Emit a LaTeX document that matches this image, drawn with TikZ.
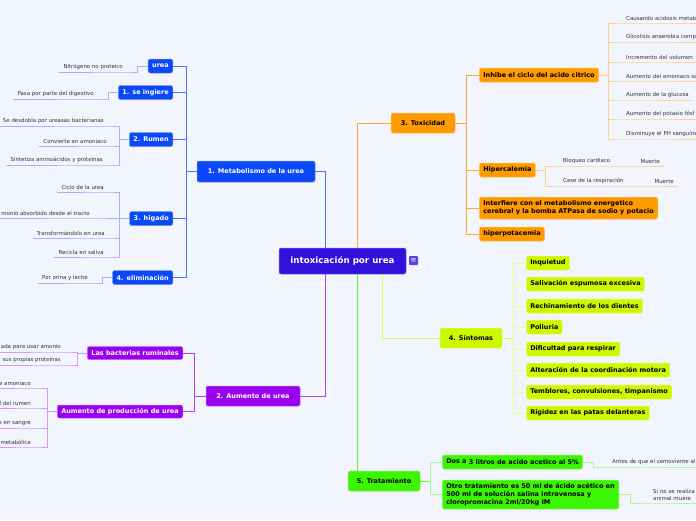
\documentclass[tikz,border=0pt]{standalone}
\usepackage{fontspec}
\setmainfont{DejaVu Sans}
\definecolor{bg}{HTML}{F3F5FE}
\definecolor{c0}{HTML}{3410DC}
\definecolor{c1}{HTML}{0A48F8}
\definecolor{c2}{HTML}{9A00F0}
\definecolor{c3}{HTML}{FF9A00}
\definecolor{c4}{HTML}{CEF800}
\definecolor{c5}{HTML}{3CF500}
\begin{document}
\begin{tikzpicture}[x=1pt,y=-1pt,
	box/.style={rounded corners=2pt,inner xsep=4pt,inner ysep=0pt,minimum height=14pt,line width=0.5pt,font=\fontsize{6.5}{8.4}\selectfont\bfseries},
	b1/.style={box,fill=c1,draw=c1!60!white,text=white},
	b2/.style={box,fill=c2,draw=c2!60!white,text=white},
	b3/.style={box,fill=c3,draw=c3!60!white,text=black},
	b4/.style={box,fill=c4,draw=c4!60!white,text=black},
	b5/.style={box,fill=c5,draw=c5!60!white,text=black},
	leaf/.style={inner xsep=4pt,inner ysep=2.2pt,text=black!80,font=\fontsize{5.45}{6.8}\selectfont},
	cut/.style={text width=100pt,align=left},
	l1/.style={draw=c1!75!white,line width=1pt},
	l1l/.style={draw=c1!40!white,line width=1pt},
	l2/.style={draw=c2!75!white,line width=1pt},
	l2l/.style={draw=c2!40!white,line width=1pt},
	l3/.style={draw=c3!85!white,line width=1pt},
	l3l/.style={draw=c3!45!white,line width=1pt},
	l4/.style={draw=c4!70!white,line width=1pt},
	l4l/.style={draw=c4!40!white,line width=1pt},
	l5/.style={draw=c5!85!white,line width=1pt},
	l5l/.style={draw=c5!45!white,line width=1pt}]
	\useasboundingbox (0,0) rectangle (696,520);
	\fill[bg] (0,0) rectangle (696,520);
	\node[box,fill=c0,draw=c0!60!white,text=white,minimum width=127pt,minimum height=26pt,font=\fontsize{8.7}{10}\selectfont\bfseries] (0) at (342.5,261) {intoxicación por urea};
	\node[fill=c0!80!white,rounded corners=1pt,inner sep=0pt,minimum size=9pt,text=white,font=\fontsize{7}{7}\selectfont] (0n) at (413.5,260.5) {≡};
	\node[b1,minimum width=118pt,minimum height=21pt] (1) at (256,171.5) {1. Metabolismo de la urea};
	\node[b2,minimum width=94pt,minimum height=20pt] (2) at (253,396) {2. Aumento de urea};
	\node[b3,minimum width=64pt,minimum height=20pt] (3) at (423,123) {3. Toxicidad};
	\node[b4,minimum width=62pt,minimum height=20pt] (4) at (471,338) {4. Síntomas};
	\node[b5,minimum width=72pt,minimum height=20pt] (5) at (384,481) {5. Tratamiento};
	\draw[l1] ([xshift=47pt]0.north west) |- (1.east);
	\draw[l2] ([xshift=47pt]0.south west) |- (2.east);
	\draw[l3] ([xshift=79pt]0.north west) |- (3.west);
	\draw[l4] ([xshift=104pt]0.south west) |- (4.west);
	\coordinate (05) at ([xshift=79pt]0.south west);
	\draw[l5] (05) -- (05 |- 5.north);
	\node[b1,anchor=east] (11) at (173,66) {urea};
	\node[b1,anchor=east] (12) at (173,92.5) {1. se ingiere};
	\node[b1,anchor=east] (13) at (173,139.5) {2. Rumen};
	\node[b1,anchor=east] (14) at (173,218.5) {3. higado};
	\node[b1,anchor=east] (15) at (173,277.5) {4. eliminación};
	\draw[l1] (1.west) -- ++(-10,0) coordinate (1b);
	\draw[l1] (11.east) -| (1b);
	\draw[l1] (12.east) -| (1b);
	\draw[l1] (13.east) -| (1b);
	\draw[l1] (14.east) -| (1b);
	\draw[l1] (15.east) -| (1b);
	\node[leaf,anchor=south east] (111) at (127,72) {Nitrógeno no proteico};
	\node[leaf,anchor=south east] (121) at (98,99) {Pasa por parte del  digestivo};
	\node[leaf,anchor=south east] (131) at (108,126) {Se desdobla por ureasas bacterianas};
	\node[leaf,anchor=south east] (132) at (111,146) {Convierte en amoniaco};
	\node[leaf,anchor=south east] (133) at (107,165) {Sintetiza aminoácidos y proteínas};
	\node[leaf,anchor=south east] (141) at (108,192) {Ciclo de la urea};
	\node[leaf,anchor=south east] (142) at (94,218) {monio absorbido desde el tracto};
	\node[leaf,anchor=south east] (143) at (109,238) {Transformándolo en urea};
	\node[leaf,anchor=south east] (144) at (108,257) {Recicla en saliva};
	\node[leaf,anchor=south east] (151) at (92,283) {Por orina y leche};
	\draw[l1l] (11.west) -- ++(-10,0) |- (111.south east) -- (111.south west);
	\draw[l1l] (12.west) -- ++(-10,0) |- (121.south east) -- (121.south west);
	\draw[l1l] (13.west) -- ++(-10,0) coordinate (13b);
	\draw[l1l] (131.south west) -- (131.south east) -| (13b);
	\draw[l1l] (132.south west) -- (132.south east) -| (13b);
	\draw[l1l] (133.south west) -- (133.south east) -| (13b);
	\draw[l1l] (14.west) -- ++(-10,0) coordinate (14b);
	\draw[l1l] (141.south west) -- (141.south east) -| (14b);
	\draw[l1l] (142.south west) -- (142.south east) -| (14b);
	\draw[l1l] (143.south west) -- (143.south east) -| (14b);
	\draw[l1l] (144.south west) -- (144.south east) -| (14b);
	\draw[l1l] (15.west) -- ++(-10,0) |- (151.south east) -- (151.south west);
	\node[b2,anchor=east,minimum height=13pt] (21) at (183,353) {Las bacterias ruminales};
	\node[b2,anchor=east,minimum height=13pt] (22) at (183,411.5) {Aumento de producción de urea};
	\draw[l2] (2.west) -- ++(-11,0) coordinate (2b);
	\draw[l2] (21.east) -| (2b);
	\draw[l2] (22.east) -| (2b);
	\node[leaf,anchor=south east] (211) at (65,352) {ada para usar amonio};
	\node[leaf,anchor=south east] (212) at (65,365) {sus propias proteínas};
	\node[leaf,anchor=south east] (221) at (35,388) {e amoniaco};
	\node[leaf,anchor=south east] (222) at (35,408) {l del rumen};
	\node[leaf,anchor=south east] (223) at (35,428) {s en sangre};
	\node[leaf,anchor=south east] (224) at (35,447) {metabólica};
	\draw[l2l] (21.west) -- ++(-10,0) coordinate (21b);
	\draw[l2l] (211.south west) -- (211.south east) -| (21b);
	\draw[l2l] (212.south west) -- (212.south east) -| (21b);
	\draw[l2l] (22.west) -- ++(-10,0) coordinate (22b);
	\draw[l2l] (221.south west) -- (221.south east) -| (22b);
	\draw[l2l] (222.south west) -- (222.south east) -| (22b);
	\draw[l2l] (223.south west) -- (223.south east) -| (22b);
	\draw[l2l] (224.south west) -- (224.south east) -| (22b);
	\node[b3,anchor=west] (31) at (479,75) {Inhibe el ciclo del acido citrico};
	\node[b3,anchor=west] (32) at (479,170) {Hipercalemia};
	\node[b3,anchor=west,align=left,minimum height=22pt] (33) at (479,208) {Interfiere con el metabolismo energetico\\cerebral y la bomba ATPasa de sodio y potacio};
	\node[b3,anchor=west] (34) at (479,234) {hiperpotacemia};
	\draw[l3] (3.east) -- ++(11,0) coordinate (3b);
	\draw[l3] (31.west) -| (3b);
	\draw[l3] (32.west) -| (3b);
	\draw[l3] (33.west) -| (3b);
	\draw[l3] (34.west) -| (3b);
	\node[leaf,cut,anchor=south west] (311) at (622,23) {Causando acidosis metab};
	\node[leaf,cut,anchor=south west] (312) at (622,42) {Glicolisis anaerobia comp};
	\node[leaf,cut,anchor=south west] (313) at (622,62) {Incremento del volumen};
	\node[leaf,cut,anchor=south west] (314) at (622,81) {Aumento del amoniaco sa};
	\node[leaf,anchor=south west] (315) at (622,100) {Aumento de la glucosa};
	\node[leaf,cut,anchor=south west] (316) at (622,119) {Aumento del potasio fósf};
	\node[leaf,cut,anchor=south west] (317) at (622,139) {Disminuye el PH sanguíne};
	\draw[l3l] (31.east) -- ++(10,0) coordinate (31b);
	\draw[l3l] (311.south east) -- (311.south west) -| (31b);
	\draw[l3l] (312.south east) -- (312.south west) -| (31b);
	\draw[l3l] (313.south east) -- (313.south west) -| (31b);
	\draw[l3l] (314.south east) -- (314.south west) -| (31b);
	\draw[l3l] (315.south east) -- (315.south west) -| (31b);
	\draw[l3l] (316.south east) -- (316.south west) -| (31b);
	\draw[l3l] (317.south east) -- (317.south west) -| (31b);
	\node[leaf,anchor=south west] (321) at (559,166) {Bloqueo cardiaco};
	\node[leaf,anchor=south east] (3211) at (664,166) {Muerte};
	\node[leaf,anchor=south west] (322) at (559,186) {Cese de la respiración};
	\node[leaf,anchor=south east] (3221) at (678,186) {Muerte};
	\draw[l3l] (32.east) -- ++(10,0) coordinate (32b);
	\draw[l3l] (32b) |- (321.south west) -- (321.south east) -- (3211.south west) -- (3211.south east);
	\draw[l3l] (32b) |- (322.south west) -- (322.south east) -- (3221.south west) -- (3221.south east);
	\node[b4,anchor=west] (41) at (526,263) {Inquietud};
	\node[b4,anchor=west] (42) at (526,284) {Salivación espumosa excesiva};
	\node[b4,anchor=west] (43) at (526,306) {Rechinamiento de los dientes};
	\node[b4,anchor=west] (44) at (526,327) {Poliuria};
	\node[b4,anchor=west] (45) at (526,349) {Dificultad para respirar};
	\node[b4,anchor=west] (46) at (526,370) {Alteración de la coordinación motora};
	\node[b4,anchor=west] (47) at (526,392) {Temblores, convulsiones, timpanismo};
	\node[b4,anchor=west] (48) at (526,413) {Rigidez en las patas delanteras};
	\draw[l4] (4.east) -- ++(11,0) coordinate (4b);
	\draw[l4l] (41.west) -| (4b);
	\draw[l4l] (42.west) -| (4b);
	\draw[l4l] (43.west) -| (4b);
	\draw[l4l] (44.west) -| (4b);
	\draw[l4l] (45.west) -| (4b);
	\draw[l4l] (46.west) -| (4b);
	\draw[l4l] (47.west) -| (4b);
	\draw[l4l] (48.west) -| (4b);
	\node[b5,anchor=west] (51) at (442,462) {\raisebox{1pt}{Dos a} 3 litros de acido acetico al 5\%};
	\node[b5,anchor=west,align=left,minimum height=29pt] (52) at (442,494.5) {Otro tratamiento es 50 ml de ácido acético en\\500 ml de solución salina intravenosa  y\\cloropromacina 2ml/20kg IM};
	\draw[l5] (5.east) -- ++(10,0) coordinate (5b);
	\draw[l5l] (51.west) -| (5b);
	\draw[l5l] (52.west) -| (5b);
	\node[leaf,cut,anchor=south west] (511) at (608,467) {Antes de que el semoviente al};
	\node[leaf,anchor=south west,align=left,text width=52pt] (521) at (649,503) {Si no se realiza\\animal muere};
	\draw[l5l] (51.east) -- ++(11,0) |- (511.south west) -- (511.south east);
	\draw[l5l] (52.east) -- ++(11,0) |- (521.south west) -- (521.south east);
\end{tikzpicture}
\end{document}
